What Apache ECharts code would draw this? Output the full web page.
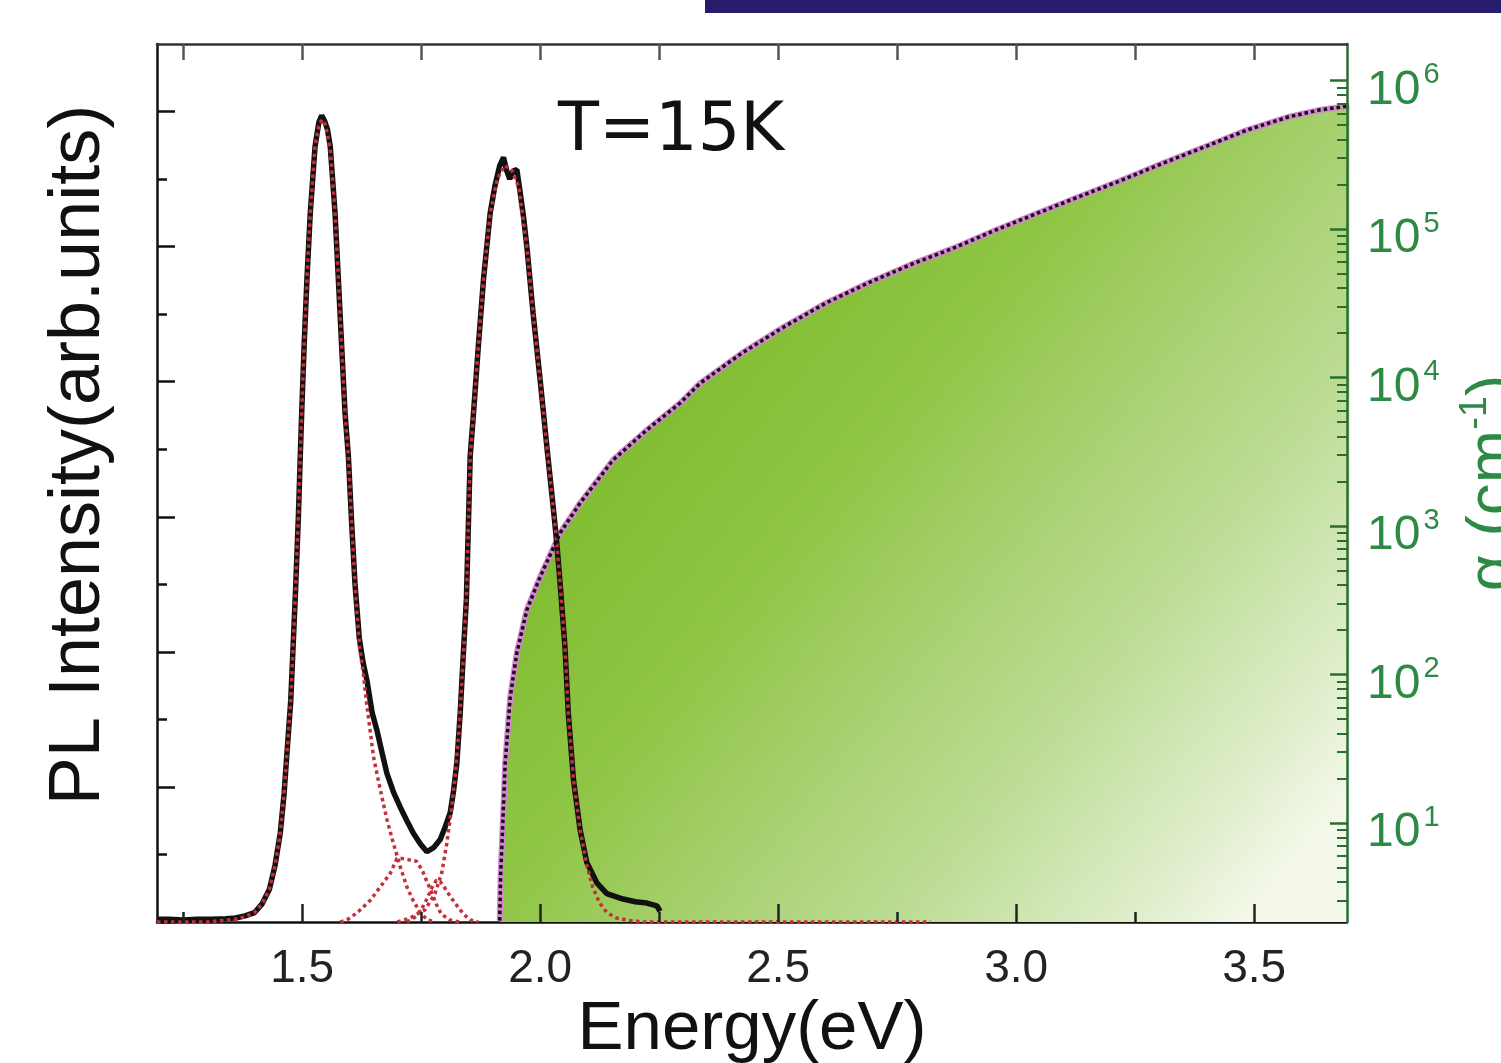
<!DOCTYPE html>
<html><head><meta charset="utf-8">
<script src="https://cdn.jsdelivr.net/npm/echarts@6/dist/echarts.min.js"></script>
<style>html,body{margin:0;padding:0;background:#fff}#c{width:1501px;height:1063px}</style>
</head><body><div id="c"></div><script>
// ---- data ----
const energyMajorTicks = [1.5, 2.0, 2.5, 3.0, 3.5];
const energyMinorTicks = [1.25, 1.75, 2.25, 2.75, 3.25];
const energyTopTicks = [1.25, 1.5, 1.75, 2.0, 2.25, 2.5, 2.75, 3.0, 3.25, 3.5];
const plMajorTicks = [0, 1, 2, 3, 4, 5, 6];
const plMinorTicks = [0.5, 1.5, 2.5, 3.5, 4.5, 5.5];
const alphaDecades = [10, 100, 1000, 10000, 100000, 1000000];
const alphaMinorTicks = [3,4,5,6,7,8,9,20,30,40,50,60,70,80,90,200,300,400,500,600,700,800,900,
  2000,3000,4000,5000,6000,7000,8000,9000,20000,30000,40000,50000,60000,70000,80000,90000,
  200000,300000,400000,500000,600000,700000,800000,900000];

// measured PL (black solid)
const plMeasured = [[1.195,0.02],[1.22,0.02],[1.25,0.015],[1.28,0.02],[1.31,0.02],[1.34,0.025],[1.36,0.03],
 [1.38,0.045],[1.40,0.07],[1.415,0.13],[1.431,0.24],[1.443,0.42],[1.454,0.66],[1.462,0.95],[1.468,1.25],
 [1.476,1.64],[1.486,2.45],[1.492,3.0],[1.496,3.45],[1.499,3.77],[1.504,4.26],[1.510,4.76],[1.517,5.25],
 [1.527,5.74],[1.535,5.92],[1.541,5.97],[1.547,5.93],[1.553,5.87],[1.559,5.74],[1.569,5.25],[1.576,4.76],
 [1.583,4.26],[1.590,3.77],[1.597,3.45],[1.604,2.95],[1.611,2.5],[1.620,2.1],[1.628,1.92],[1.636,1.79],
 [1.647,1.55],[1.657,1.42],[1.668,1.25],[1.678,1.10],[1.692,0.96],[1.706,0.85],[1.720,0.75],[1.733,0.66],
 [1.748,0.58],[1.762,0.52],[1.776,0.55],[1.790,0.61],[1.800,0.70],[1.811,0.81],[1.818,0.97],[1.825,1.18],
 [1.832,1.55],[1.838,1.95],[1.845,2.39],[1.853,3.45],[1.860,3.77],[1.870,4.26],[1.881,4.76],[1.895,5.25],
 [1.905,5.45],[1.915,5.60],[1.923,5.66],[1.929,5.57],[1.936,5.50],[1.943,5.56],[1.951,5.57],[1.958,5.40],
 [1.965,5.22],[1.972,5.0],[1.985,4.51],[2.0,4.01],[2.014,3.52],[2.028,3.05],[2.035,2.80],[2.042,2.50],
 [2.052,2.04],[2.059,1.55],[2.070,1.05],[2.084,0.68],[2.098,0.44],[2.119,0.29],[2.140,0.21],[2.174,0.17],
 [2.200,0.15],[2.224,0.14],[2.245,0.12],[2.252,0.08]];

// fitted components (red dotted)
const fitPeak1 = [[1.195,0],[1.30,0],[1.36,0.02],[1.38,0.04],[1.40,0.07],[1.415,0.13],[1.431,0.24],[1.443,0.42],
 [1.454,0.66],[1.462,0.95],[1.468,1.25],[1.476,1.64],[1.486,2.45],[1.492,3.0],[1.496,3.45],[1.499,3.77],
 [1.504,4.26],[1.510,4.76],[1.517,5.25],[1.527,5.74],[1.535,5.90],[1.542,5.94],[1.549,5.90],[1.559,5.72],
 [1.569,5.25],[1.576,4.76],[1.583,4.26],[1.590,3.77],[1.597,3.45],[1.604,2.95],[1.611,2.5],[1.620,2.05],
 [1.628,1.85],[1.636,1.60],[1.650,1.22],[1.664,0.98],[1.678,0.76],[1.691,0.59],[1.706,0.41],[1.720,0.26],
 [1.733,0.16],[1.748,0.07],[1.763,0.015],[1.78,0]];
const fitPeak2 = [[1.58,0],[1.594,0.015],[1.615,0.067],[1.643,0.16],[1.664,0.26],[1.685,0.36],[1.699,0.47],
 [1.710,0.47],[1.725,0.46],[1.740,0.45],[1.752,0.385],[1.762,0.30],[1.772,0.22],[1.782,0.13],[1.792,0.06],
 [1.810,0.015],[1.830,0]];
const fitPeak3 = [[1.72,0],[1.735,0.03],[1.75,0.09],[1.762,0.17],[1.772,0.25],[1.782,0.31],[1.790,0.30],
 [1.800,0.25],[1.811,0.19],[1.822,0.135],[1.832,0.09],[1.843,0.045],[1.853,0.015],[1.87,0]];
const fitPeak4 = [[1.70,0],[1.727,0.03],[1.758,0.09],[1.779,0.21],[1.793,0.36],[1.804,0.585],[1.814,0.85],
 [1.822,1.10],[1.830,1.45],[1.838,1.93],[1.845,2.39],[1.853,3.44],[1.860,3.77],[1.870,4.26],[1.881,4.76],
 [1.895,5.25],[1.910,5.50],[1.925,5.60],[1.940,5.57],[1.955,5.44],[1.972,5.0],[1.985,4.51],[2.0,4.01],
 [2.014,3.52],[2.028,3.05],[2.035,2.80],[2.042,2.50],[2.052,2.04],[2.059,1.55],[2.070,1.05],[2.084,0.68],
 [2.098,0.42],[2.110,0.26],[2.125,0.14],[2.140,0.07],[2.160,0.03],[2.190,0.01],[2.220,0],[2.82,0]];

// absorption coefficient alpha (cm^-1), log axis
const absorption = [[1.915,2.2],[1.917,4.5],[1.9195,6.9],[1.9265,25.4],[1.937,70],[1.951,140],[1.972,272],
 [2.0,454],[2.042,898],[2.084,1429],[2.153,2780],[2.224,4430],[2.294,6730],[2.336,9150],[2.424,14600],
 [2.513,22000],[2.601,31800],[2.689,43300],[2.777,57300],[2.867,74000],[2.955,97800],[3.043,127000],
 [3.132,165000],[3.220,212000],[3.309,278000],[3.397,358000],[3.485,464000],[3.574,571000],[3.636,632000],
 [3.689,667000],[3.70,672000]];

// ---- chart ----
const FONT = 'Liberation Sans, Arial, sans-serif';
const GREEN = '#2d8a45';
const AXGREEN = '#2a6e30';
const E_MIN = 1.195, E_MAX = 3.695;
const alphaMin = 2.154, alphaMax = 1.761e6;
const chart = echarts.init(document.getElementById('c'));
const redDot = {color:'#c3303a', width:3.5, type:[3.5,3.5]};
const noLine = {axisLine:{show:false}, axisLabel:{show:false}, splitLine:{show:false}};
const alphaTickAxis = (vals, len, w) => Object.assign({type:'value', min:Math.log10(alphaMin), max:Math.log10(alphaMax),
  position:'right', z:10,
  axisTick:{show:true, inside:true, length:len, customValues:vals.map(v=>Math.log10(v)), lineStyle:{color:AXGREEN, width:w}}}, noLine);
const energyTickAxis = (vals, len, pos, color) => Object.assign({type:'value', min:E_MIN, max:E_MAX, position:pos, z:10,
  axisTick:{show:true, inside:true, length:len, customValues:vals, lineStyle:{color:color, width:2.5}}}, noLine);
chart.setOption({
  animation:false,
  backgroundColor:'#fff',
  title:{text:'T=15K', left:558, top:99, padding:0,
    textStyle:{fontSize:67, fontFamily:'DejaVu Sans', fontWeight:'normal', color:'#111'}},
  graphic:[{type:'rect', shape:{x:705, y:0, width:796, height:13}, style:{fill:'#271b6d'}, z:100}],
  grid:{left:157, right:154, top:44, bottom:141, containLabel:false, outerBoundsMode:'none'},
  xAxis:[
    {type:'value', min:E_MIN, max:E_MAX, position:'bottom',
     axisLine:{show:true, lineStyle:{color:'#111', width:2.5}},
     axisTick:{show:false},
     axisLabel:{show:true, customValues:energyMajorTicks, formatter:v=>v.toFixed(1), fontSize:46, margin:24, color:'#222', fontFamily:FONT},
     splitLine:{show:false},
     name:'Energy(eV)', nameLocation:'middle', nameGap:73, nameMoveOverlap:false,
     nameTextStyle:{fontSize:69, color:'#111', fontFamily:FONT}},
    energyTickAxis(energyMajorTicks, 18, 'bottom', '#222'),
    energyTickAxis(energyMinorTicks, 10, 'bottom', '#222'),
    Object.assign(energyTickAxis(energyTopTicks, 16, 'top', '#555'), {axisLine:{show:true, lineStyle:{color:'#333', width:2.5}}})
  ],
  yAxis:[
    {type:'value', min:0, max:6.5, position:'left',
     axisLine:{show:true, lineStyle:{color:'#111', width:2.5}},
     axisTick:{show:true, inside:true, length:18, customValues:plMajorTicks, lineStyle:{color:'#111', width:2.5}},
     axisLabel:{show:false}, splitLine:{show:false},
     name:'PL Intensity(arb.units)', nameLocation:'middle', nameGap:42, nameMoveOverlap:false,
     nameTextStyle:{fontSize:72, color:'#111', fontFamily:FONT, padding:[0,0,0,56]}},
    Object.assign({type:'value', min:0, max:6.5, position:'left',
     axisTick:{show:true, inside:true, length:10, customValues:plMinorTicks, lineStyle:{color:'#111', width:2.5}}}, noLine),
    {type:'log', logBase:10, min:alphaMin, max:alphaMax, position:'right', z:10,
     axisLine:{show:true, lineStyle:{color:AXGREEN, width:2.5}},
     axisTick:{show:false},
     axisLabel:{show:true, customValues:alphaDecades, margin:20,
       formatter:v=>'{b|10}{s|'+Math.round(Math.log10(v))+'}',
       rich:{b:{fontSize:48, color:GREEN, fontFamily:FONT, padding:[20,0,0,0]},
             s:{fontSize:29, color:GREEN, fontFamily:FONT, padding:[0,0,10,3]}}},
     splitLine:{show:false},
     name:'{a|α (cm}{s|-1}{a|)}', nameLocation:'middle', nameGap:110, nameMoveOverlap:false,
     nameTextStyle:{rich:{a:{fontSize:64, color:GREEN, fontFamily:FONT},
                          s:{fontSize:38, color:GREEN, fontFamily:FONT, padding:[0,0,36,0]}}}},
    alphaTickAxis(alphaDecades, 17, 2.5),
    alphaTickAxis(alphaMinorTicks, 10, 2)
  ],
  series:[
    {type:'line', name:'absorption', data:absorption, xAxisIndex:0, yAxisIndex:2, symbol:'none', z:1,
     lineStyle:{color:'#d683d4', width:6},
     areaStyle:{opacity:1, color:new echarts.graphic.LinearGradient(0,0,1,0.85,[
       {offset:0, color:'#72b526'},{offset:0.3, color:'#82be33'},{offset:0.45, color:'#8fc544'},
       {offset:0.6, color:'#a6d06e'},{offset:0.75, color:'#bcdc94'},{offset:0.9, color:'#dcecc6'},{offset:1, color:'#f4f8ea'}])}},
    {type:'line', name:'absorption-dots', data:absorption, xAxisIndex:0, yAxisIndex:2, symbol:'none', z:6,
     lineStyle:{color:'#111', width:3.5, type:[3.5,3]}},
    {type:'line', name:'PL', data:plMeasured, xAxisIndex:0, yAxisIndex:0, symbol:'none', z:3,
     lineStyle:{color:'#111', width:5.5}},
    {type:'line', name:'fit1', data:fitPeak1, xAxisIndex:0, yAxisIndex:0, symbol:'none', z:4, lineStyle:redDot},
    {type:'line', name:'fit2', data:fitPeak2, xAxisIndex:0, yAxisIndex:0, symbol:'none', z:4, lineStyle:redDot},
    {type:'line', name:'fit3', data:fitPeak3, xAxisIndex:0, yAxisIndex:0, symbol:'none', z:4, lineStyle:redDot},
    {type:'line', name:'fit4', data:fitPeak4, xAxisIndex:0, yAxisIndex:0, symbol:'none', z:4, lineStyle:redDot}
  ]
});
</script></body></html>
